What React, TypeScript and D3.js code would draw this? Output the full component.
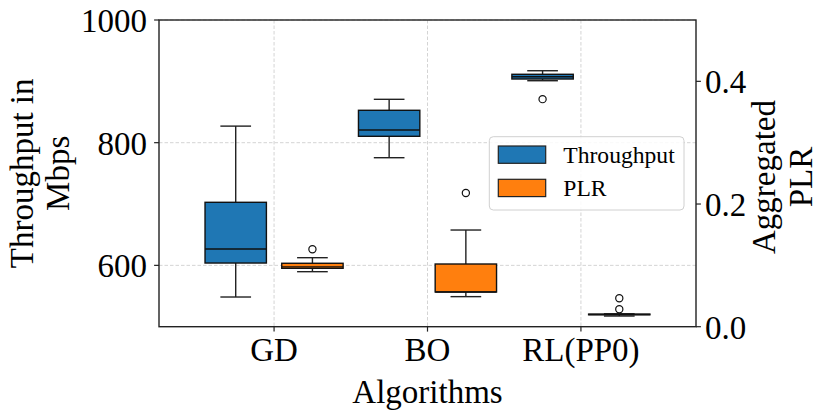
import React from "react";
import * as d3 from "d3";

const categories = ["GD", "BO", "RL(PP0)"];
const seriesNames = ["Throughput", "PLR"];

// Throughput (Mbps) box statistics per algorithm
const tpLow = [548.4, 775.5, 901.0];
const tpQ1 = [603.8, 810.4, 903.8];
const tpMed = [626.7, 820.7, 907.5];
const tpQ3 = [702.8, 852.8, 911.5];
const tpHigh = [827.0, 870.7, 917.3];
const tpFliers = [[], [], [871.0]];

// Aggregated PLR box statistics per algorithm
const plrLow = [0.0897, 0.049, 0.0174];
const plrQ1 = [0.0952, 0.0566, 0.0195];
const plrMed = [0.0975, 0.0566, 0.0200];
const plrQ3 = [0.1034, 0.1022, 0.0205];
const plrHigh = [0.1125, 0.1576, 0.021];
const plrFliers = [[0.1262], [0.218], [0.0284, 0.0463]];

const leftTicks = [600, 800, 1000];
const rightTicks = [0.0, 0.2, 0.4];

const W = 830, H = 412;
const M = { left: 159, right: 696, top: 20, bottom: 326.7 };
const FONT = "'Liberation Serif', 'Times New Roman', serif";
const BLUE = "#1f77b4";
const ORANGE = "#ff7f0e";

export default function App() {
  const x = d3.scaleLinear().domain([0.5, 4.0]).range([M.left, M.right]);
  const yL = d3.scaleLinear().domain([500, 1000]).range([M.bottom, M.top]);
  const yR = d3.scaleLinear().domain([0, 0.5]).range([M.bottom, M.top]);
  const boxW = x(0.4) - x(0);
  const capW = boxW / 2;

  const tickPos = categories.map((_, i) => i + 1.25);

  const drawBox = (key: string, cx: number, y: d3.ScaleLinear<number, number>, lo: number, q1: number, med: number, q3: number, hi: number, fl: number[], fill: string) => (
    <g key={key}>
      <line x1={cx} x2={cx} y1={y(q1)} y2={y(lo)} stroke="#222" strokeWidth={1.4} />
      <line x1={cx} x2={cx} y1={y(q3)} y2={y(hi)} stroke="#222" strokeWidth={1.4} />
      <line x1={cx - capW / 2} x2={cx + capW / 2} y1={y(lo)} y2={y(lo)} stroke="#222" strokeWidth={1.4} />
      <line x1={cx - capW / 2} x2={cx + capW / 2} y1={y(hi)} y2={y(hi)} stroke="#222" strokeWidth={1.4} />
      <rect x={cx - boxW / 2} y={y(q3)} width={boxW} height={Math.max(0.5, y(q1) - y(q3))} fill={fill} stroke="#111" strokeWidth={1.4} />
      <line x1={cx - boxW / 2} x2={cx + boxW / 2} y1={y(med)} y2={y(med)} stroke="#111" strokeWidth={1.4} />
      {fl.map((v, j) => (
        <circle key={j} cx={cx} cy={y(v)} r={3.6} fill="none" stroke="#111" strokeWidth={1.2} />
      ))}
    </g>
  );

  return (
    <svg width={W} height={H} style={{ position: "absolute", left: 0, top: 0, background: "#fff" }} fontFamily={FONT}>
      {/* grid */}
      <g stroke="#cfcfcf" strokeWidth={0.9} strokeDasharray="3.5,2">
        {leftTicks.map((t) => (
          <line key={"gy" + t} x1={M.left} x2={M.right} y1={yL(t)} y2={yL(t)} />
        ))}
        {tickPos.map((t, i) => (
          <line key={"gx" + i} x1={x(t)} x2={x(t)} y1={M.top} y2={M.bottom} />
        ))}
      </g>

      {/* boxes */}
      {categories.map((c, i) =>
        drawBox("tp" + c, x(i + 1), yL, tpLow[i], tpQ1[i], tpMed[i], tpQ3[i], tpHigh[i], tpFliers[i], BLUE)
      )}
      {categories.map((c, i) =>
        drawBox("plr" + c, x(i + 1.5), yR, plrLow[i], plrQ1[i], plrMed[i], plrQ3[i], plrHigh[i], plrFliers[i], ORANGE)
      )}

      {/* frame */}
      <rect x={M.left} y={M.top} width={M.right - M.left} height={M.bottom - M.top} fill="none" stroke="#222" strokeWidth={1.4} />

      {/* left axis */}
      {leftTicks.map((t) => (
        <g key={"lt" + t}>
          <line x1={M.left - 4.9} x2={M.left} y1={yL(t)} y2={yL(t)} stroke="#222" strokeWidth={1.2} />
          <text x={147} y={yL(t) + 12} textAnchor="end" fontSize={33}>{t}</text>
        </g>
      ))}
      {/* right axis */}
      {rightTicks.map((t) => (
        <g key={"rt" + t}>
          <line x1={M.right} x2={M.right + 4.9} y1={yR(t)} y2={yR(t)} stroke="#222" strokeWidth={1.2} />
          <text x={705} y={yR(t) + 12} textAnchor="start" fontSize={33}>{t.toFixed(1)}</text>
        </g>
      ))}
      {/* x axis */}
      {categories.map((c, i) => (
        <g key={"xt" + c}>
          <line x1={x(tickPos[i])} x2={x(tickPos[i])} y1={M.bottom} y2={M.bottom + 4.9} stroke="#222" strokeWidth={1.2} />
          <text x={x(tickPos[i])} y={361} textAnchor="middle" fontSize={33}>{c}</text>
        </g>
      ))}

      {/* axis labels */}
      <text x={(M.left + M.right) / 2} y={403} textAnchor="middle" fontSize={33}>Algorithms</text>
      <g transform={`translate(0, ${(M.top + M.bottom) / 2}) rotate(-90)`}>
        <text x={0} y={33} textAnchor="middle" fontSize={33}>Throughput in</text>
        <text x={0} y={69} textAnchor="middle" fontSize={33}>Mbps</text>
      </g>
      <g transform={`translate(0, 177) rotate(-90)`}>
        <text x={0} y={775} textAnchor="middle" fontSize={33}>Aggregated</text>
        <text x={0} y={812} textAnchor="middle" fontSize={33}>PLR</text>
      </g>

      {/* legend */}
      <g>
        <rect x={489.3} y={136.7} width={194.7} height={73.3} rx={4} fill="#fff" fillOpacity={0.85} stroke="#d0d0d0" strokeWidth={1} />
        {seriesNames.map((s, i) => (
          <g key={s}>
            <rect x={498.3} y={146 + i * 33.3} width={47.4} height={17.3} fill={i === 0 ? BLUE : ORANGE} stroke="#222" strokeWidth={1.2} />
            <text x={563.3} y={163.3 + i * 32.4} fontSize={23.6}>{s}</text>
          </g>
        ))}
      </g>
    </svg>
  );
}
